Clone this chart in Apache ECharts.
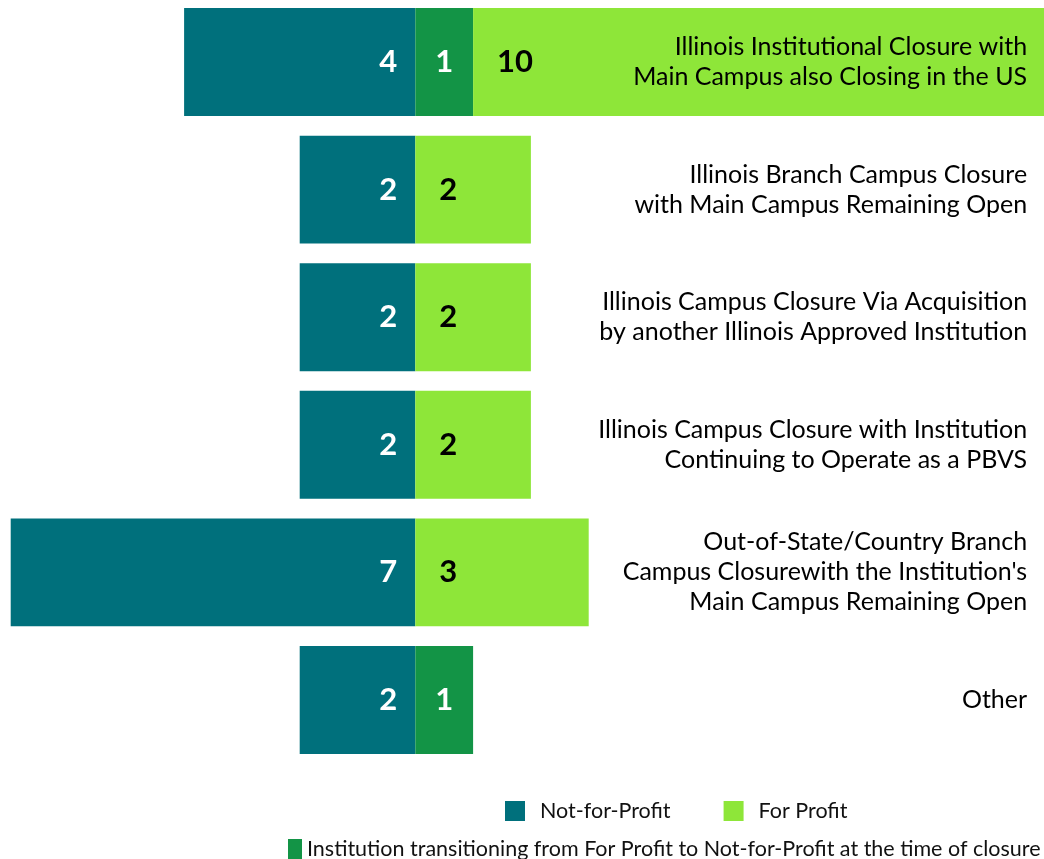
<!DOCTYPE html>
<html>
<head>
<meta charset="utf-8">
<script src="https://cdn.jsdelivr.net/npm/echarts@6/dist/echarts.min.js"></script>
<style>
html,body{margin:0;padding:0;background:#fff;}
#chart{width:1044px;height:859px;}
</style>
</head>
<body>
<div id="chart"></div>
<script>
var categories = [
  "Illinois Institutional Closure with\nMain Campus also Closing in the US",
  "Illinois Branch Campus Closure\nwith Main Campus Remaining Open",
  "Illinois Campus Closure Via Acquisition\nby another Illinois Approved Institution",
  "Illinois Campus Closure with Institution\nContinuing to Operate as a PBVS",
  "Out-of-State/Country Branch\nCampus Closurewith the Institution's\nMain Campus Remaining Open",
  "Other"
];
var notForProfit = [4, 2, 2, 2, 7, 2];
var transitioning = [1, null, null, null, null, 1];
var forProfit = [10, 2, 2, 2, 3, null];

var FONT = "Lato";
var chart = echarts.init(document.getElementById('chart'));
chart.setOption({
  animation: false,
  textStyle: { fontFamily: FONT },
  grid: { left: 10.7, top: -1.8, width: 1040.4, height: 765.6, containLabel: false, outerBoundsMode: 'none' },
  legend: [
    {
      data: ["Not-for-Profit", "For Profit"],
      left: 505, top: 800, itemWidth: 20, itemHeight: 20, itemGap: 53, padding: 0,
      icon: 'rect',
      textStyle: { fontFamily: FONT, fontSize: 21.5, color: '#111', padding: [0, 0, 0, 10] }
    },
    {
      data: ["Institution transitioning from For Profit to Not-for-Profit at the time of closure"],
      left: 288, top: 838, itemWidth: 14, itemHeight: 20, itemGap: 6, padding: 0,
      icon: 'rect',
      textStyle: { fontFamily: FONT, fontSize: 21.5, color: '#111' }
    }
  ],
  xAxis: { type: 'value', min: -7, max: 11, show: false, splitLine: { show: false } },
  yAxis: {
    type: 'category', data: categories, inverse: true, position: 'right', z: 10,
    axisLine: { show: false }, axisTick: { show: false },
    axisLabel: { inside: true, margin: 24, align: 'right', fontSize: 25, lineHeight: 30, color: '#000', fontFamily: FONT }
  },
  series: [
    {
      name: "Not-for-Profit", type: 'bar', stack: 'a', barCategoryGap: '15.4%',
      data: notForProfit.map(function (v) { return v == null ? null : -v; }),
      itemStyle: { color: '#00707C' },
      label: { show: true, position: 'insideRight', distance: 18, color: '#fff', fontWeight: 'bold', fontSize: 31, fontFamily: FONT,
        formatter: function (p) { return Math.abs(p.value); } }
    },
    {
      name: "Institution transitioning from For Profit to Not-for-Profit at the time of closure", type: 'bar', stack: 'a',
      data: transitioning,
      itemStyle: { color: '#139446' },
      label: { show: true, position: 'inside', color: '#fff', fontWeight: 'bold', fontSize: 31, fontFamily: FONT }
    },
    {
      name: "For Profit", type: 'bar', stack: 'a',
      data: forProfit,
      itemStyle: { color: '#8EE639' },
      label: { show: true, position: 'insideLeft', distance: 24, color: '#000', fontWeight: 'bold', fontSize: 31, fontFamily: FONT }
    }
  ]
});
</script>
</body>
</html>
